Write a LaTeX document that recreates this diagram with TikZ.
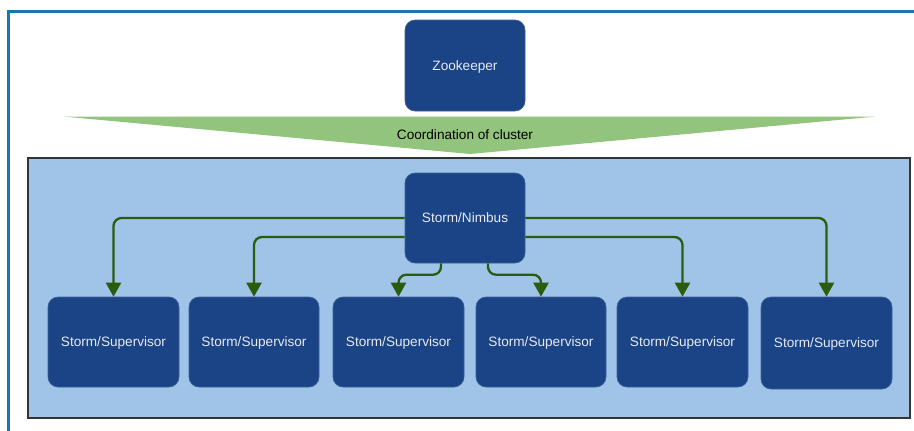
\documentclass[tikz,border=0pt]{standalone}
\usepackage{fontspec}
\setmainfont{Liberation Sans}
\usetikzlibrary{arrows.meta,calc}
\definecolor{frameblue}{HTML}{1A75B5}
\definecolor{boxblue}{HTML}{1B4486}
\definecolor{boxtext}{HTML}{E4E9F2}
\definecolor{clusterfill}{HTML}{9FC4E7}
\definecolor{clusterline}{HTML}{333333}
\definecolor{coordgreen}{HTML}{93C47D}
\definecolor{arrgreen}{HTML}{2B5C0E}
\tikzset{
  lbl/.style={font=\fontsize{13.6}{16}\selectfont, text height=9.8pt, text depth=0pt},
  darkbox/.style={lbl, draw=boxblue!85!white, line width=0.6pt, fill=boxblue, rounded corners=10pt,
    text=boxtext, inner sep=0pt, align=center},
  conn/.style={draw=arrgreen, line width=2.3pt, rounded corners=8pt,
    -{Triangle[length=14pt,width=15pt]}},
}
\begin{document}
\begin{tikzpicture}[x=1pt,y=-1pt]
\useasboundingbox (0,0) rectangle (914,431);
\clip (0,0) rectangle (914,431);
\fill[white] (0,0) rectangle (914,431);
% outer frame (extends beyond right and bottom)
\draw[frameblue, line width=2.2pt] (8.5,440) -- (8.5,11.5) -- (930,11.5);
% coordination triangle
\fill[coordgreen] (63,116.5) -- (876,116.5) -- (470,154) -- cycle;
\node[lbl, text=black, inner sep=0pt] (coord) at (465,135) {Coordination of cluster};
% cluster area
\draw[clusterline, line width=2pt, fill=clusterfill] (28,157.5) rectangle (910,418);
% zookeeper
\node[darkbox, minimum width=120pt, minimum height=91pt] (zk) at (465,65.5) {Zookeeper};
% nimbus
\node[darkbox, minimum width=120pt, minimum height=90pt] (nim) at (465,218) {Storm/Nimbus};
% supervisors
\node[darkbox, minimum width=131pt, minimum height=90pt] (s1) at (113.5,342) {Storm/Supervisor};
\node[darkbox, minimum width=130pt, minimum height=90pt] (s2) at (254,342) {Storm/Supervisor};
\node[darkbox, minimum width=131pt, minimum height=90pt] (s3) at (398.5,342) {Storm/Supervisor};
\node[darkbox, minimum width=130pt, minimum height=90pt] (s4) at (541,342) {Storm/Supervisor};
\node[darkbox, minimum width=131pt, minimum height=90pt] (s5) at (682.5,342) {Storm/Supervisor};
\node[darkbox, minimum width=131pt, minimum height=92pt] (s6) at (826.5,343) {Storm/Supervisor};
% connectors
\draw[conn] (nim.west) -| (s1.north);
\draw[conn] (nim.east) -| (s6.north);
\draw[conn] ([yshift=-19pt]nim.west) -| (s2.north);
\draw[conn] ([yshift=-19pt]nim.east) -| (s5.north);
\draw[conn] ([xshift=-24pt]nim.south) |- ([yshift=22pt]s3.north) -- (s3.north);
\draw[conn] ([xshift=23pt]nim.south) |- ([yshift=22pt]s4.north) -- (s4.north);
\end{tikzpicture}
\end{document}
